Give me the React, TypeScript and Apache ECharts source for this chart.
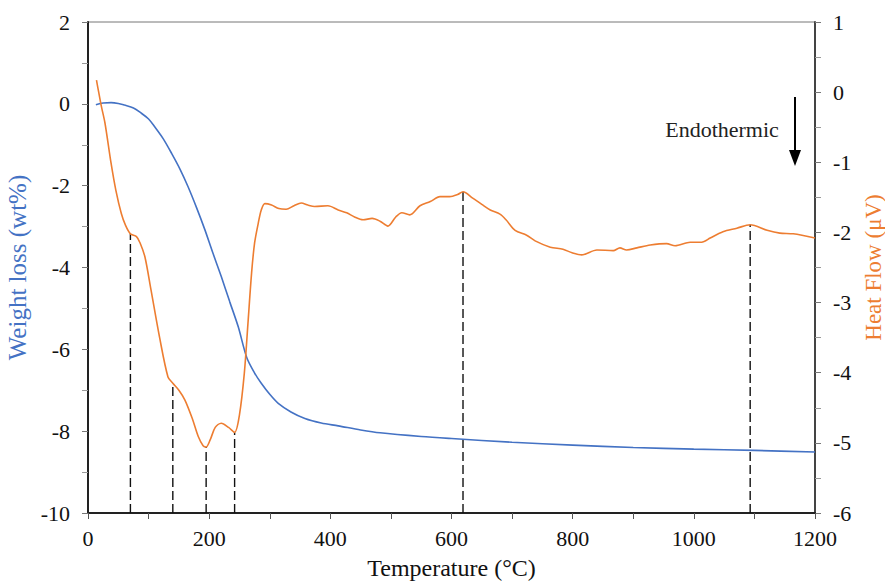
import React, { useEffect, useRef } from "react";
import * as echarts from "echarts";

// Weight loss (TGA) curve, left axis
const tempW = [13, 25, 38, 50, 60, 75, 88, 100, 110, 124, 138, 152, 165, 179, 193, 206, 220, 234, 248, 262, 275, 286, 300, 314, 335, 358, 385, 413, 450, 482, 550, 600, 700, 800, 900, 1000, 1100, 1200];
const weight = [-0.02, 0.02, 0.03, 0.01, -0.03, -0.1, -0.23, -0.37, -0.56, -0.85, -1.21, -1.6, -2.02, -2.53, -3.08, -3.64, -4.22, -4.84, -5.45, -6.2, -6.58, -6.83, -7.1, -7.32, -7.53, -7.69, -7.8, -7.87, -7.97, -8.04, -8.13, -8.18, -8.27, -8.34, -8.4, -8.44, -8.47, -8.51];

// Heat flow (DSC) curve, right axis
const tempH = [14, 17, 22, 28, 38, 46, 55, 62, 70, 80, 86, 94, 104, 118, 132, 140, 150, 160, 172, 182, 190, 195, 202, 210, 220, 232, 242, 250, 258, 264, 270, 275, 281, 286, 292, 303, 315, 327, 340, 352, 363, 374, 396, 413, 427, 440, 454, 469, 482, 495, 508, 518, 531, 548, 565, 581, 597, 610, 619, 635, 650, 664, 680, 690, 705, 724, 738, 763, 784, 799, 815, 840, 867, 878, 889, 906, 928, 955, 969, 994, 1013, 1027, 1048, 1071, 1093, 1121, 1142, 1164, 1200];
const heat = [0.17, 0.03, -0.2, -0.44, -1.01, -1.4, -1.73, -1.9, -2.02, -2.06, -2.15, -2.35, -2.82, -3.49, -4.06, -4.15, -4.25, -4.39, -4.65, -4.91, -5.04, -5.06, -4.95, -4.78, -4.72, -4.78, -4.85, -4.6, -4.01, -3.3, -2.58, -2.15, -1.87, -1.68, -1.59, -1.61, -1.66, -1.67, -1.62, -1.58, -1.61, -1.63, -1.62, -1.68, -1.72, -1.78, -1.82, -1.8, -1.84, -1.91, -1.78, -1.72, -1.75, -1.62, -1.56, -1.49, -1.49, -1.46, -1.42, -1.51, -1.6, -1.68, -1.74, -1.82, -1.97, -2.04, -2.12, -2.21, -2.24, -2.29, -2.32, -2.25, -2.26, -2.22, -2.25, -2.22, -2.18, -2.16, -2.19, -2.14, -2.14, -2.08, -1.99, -1.94, -1.89, -1.97, -2.01, -2.02, -2.08];

// Peak markers (dashed drop lines)
const peakTemps = [70, 140, 195, 242, 619, 1093];
const peakHeat = [-2.02, -4.15, -5.06, -4.85, -1.42, -1.89];

const xTicks = { min: 0, max: 1200, interval: 200 };
const leftTicks = { min: -10, max: 2, interval: 2 };
const rightTicks = { min: -6, max: 1, interval: 1 };

const FONT = "Liberation Serif";
const BLUE = "#4472C4";
const ORANGE = "#ED7D31";

export default function App() {
  const ref = useRef<HTMLDivElement>(null);
  useEffect(() => {
    if (!ref.current) return;
    const chart = echarts.init(ref.current, null, { renderer: "svg" });
    const axisLabel = {
      color: "#111",
      fontFamily: FONT,
      fontSize: 22,
      formatter: (v: number) => String(v),
    };
    const dropSeries = peakTemps.map((t, i) => ({
      type: "line",
      yAxisIndex: 1,
      data: [
        [t, rightTicks.min],
        [t, peakHeat[i]],
      ],
      symbol: "none",
      silent: true,
      z: 1,
      lineStyle: { color: "#111", width: 1.4, type: [9, 4] },
    }));
    chart.setOption({
      animation: false,
      backgroundColor: "#fff",
      grid: {
        left: 88,
        right: 70,
        top: 22,
        bottom: 69,
        containLabel: false,
        outerBoundsMode: "none",
        show: true,
        borderColor: "#777",
        borderWidth: 1,
      },
      xAxis: {
        type: "value",
        min: xTicks.min,
        max: xTicks.max,
        interval: xTicks.interval,
        name: "Temperature (°C)",
        nameLocation: "middle",
        nameGap: 43,
        nameTextStyle: { color: "#111", fontFamily: FONT, fontSize: 24 },
        axisLine: { show: true, onZero: false, lineStyle: { color: "#222", width: 2 } },
        axisTick: { show: true, length: 6, lineStyle: { color: "#555" } },
        minorTick: { show: true, splitNumber: 2, length: 6, lineStyle: { color: "#555" } },
        splitLine: { show: false },
        axisLabel: { ...axisLabel, margin: 14 },
      },
      yAxis: [
        {
          type: "value",
          min: leftTicks.min,
          max: leftTicks.max,
          interval: leftTicks.interval,
          name: "Weight loss (wt%)",
          nameLocation: "middle",
          nameGap: 51,
          nameTextStyle: { color: BLUE, fontFamily: FONT, fontSize: 25 },
          axisLine: { show: true, onZero: false, lineStyle: { color: "#222", width: 2 } },
          axisTick: { show: true, length: 6, lineStyle: { color: "#777" } },
          minorTick: { show: true, splitNumber: 2, length: 6, lineStyle: { color: "#999" } },
          splitLine: { show: false },
          axisLabel: { ...axisLabel, margin: 18 },
        },
        {
          type: "value",
          min: rightTicks.min,
          max: rightTicks.max,
          interval: rightTicks.interval,
          position: "right",
          name: "Heat Flow (μV)",
          nameLocation: "middle",
          nameGap: 44,
          nameTextStyle: { color: ORANGE, fontFamily: FONT, fontSize: 23 },
          axisLine: { show: true, onZero: false, lineStyle: { color: "#444", width: 2 } },
          axisTick: { show: true, length: 6, lineStyle: { color: "#777" } },
          minorTick: { show: true, splitNumber: 2, length: 6, lineStyle: { color: "#999" } },
          splitLine: { show: false },
          axisLabel: { ...axisLabel, margin: 18 },
        },
      ],
      series: [
        ...dropSeries,
        {
          name: "Weight loss",
          type: "line",
          yAxisIndex: 0,
          data: tempW.map((t, i) => [t, weight[i]]),
          smooth: 0.3,
          symbol: "none",
          z: 3,
          lineStyle: { color: BLUE, width: 1.6 },
        },
        {
          name: "Heat Flow",
          type: "line",
          yAxisIndex: 1,
          data: tempH.map((t, i) => [t, heat[i]]),
          smooth: 0.3,
          symbol: "none",
          z: 4,
          lineStyle: { color: ORANGE, width: 1.6 },
        },
      ],
      graphic: [
        {
          type: "text",
          x: 722,
          y: 129,
          style: {
            text: "Endothermic",
            fill: "#222",
            font: `22px ${FONT}`,
            align: "center",
            verticalAlign: "middle",
          },
        },
        {
          type: "line",
          shape: { x1: 795, y1: 97, x2: 795, y2: 152 },
          style: { stroke: "#000", lineWidth: 2 },
        },
        {
          type: "polygon",
          shape: { points: [[789, 150], [801, 150], [795, 166]] },
          style: { fill: "#000" },
        },
      ],
    });
    return () => chart.dispose();
  }, []);
  return (
    <div
      ref={ref}
      style={{ position: "fixed", left: 0, top: 0, width: 885, height: 582, background: "#fff" }}
    />
  );
}
